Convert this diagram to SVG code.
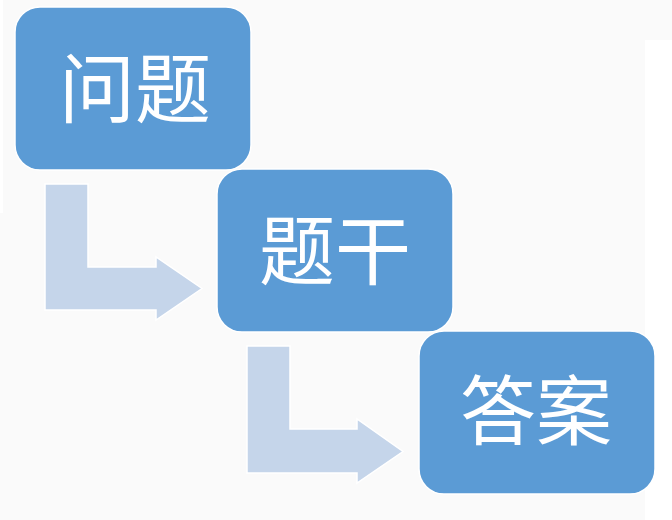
<svg xmlns="http://www.w3.org/2000/svg" width="672" height="520" viewBox="0 0 672 520">
<style>
.box{fill:#5b9bd5;stroke:#ffffff;stroke-width:1.5}
.arrow{fill:#c5d5ea;stroke:#ffffff;stroke-width:1.5;stroke-linejoin:miter}
.label{fill:#ffffff;font-family:"Noto Sans CJK SC","Noto Sans CJK JP",sans-serif;font-size:76px;text-anchor:middle}
</style>
<rect x="0" y="0" width="672" height="520" fill="#fafafa"/>
<rect x="645" y="40" width="27" height="480" fill="#ffffff"/>
<rect x="0" y="0" width="3" height="213" fill="#ffffff"/>
<g id="connectors">
<polygon class="arrow" points="45,184 88,184 88,267 156,267 156,257 202,288.5 156,320 156,310 45,310"/>
<polygon class="arrow" points="247,346 290,346 290,429 357,429 357,419 403,451.5 357,483 357,473 247,473"/>
</g>
<g id="node1">
<rect class="box" x="15" y="7" width="236" height="163" rx="25" ry="25"/>
<text class="label" x="135" y="117">问题</text>
</g>
<g id="node2">
<rect class="box" x="217" y="169" width="236" height="163" rx="25" ry="25"/>
<text class="label" x="335" y="279">题干</text>
</g>
<g id="node3">
<rect class="box" x="419" y="331" width="236" height="163" rx="25" ry="25"/>
<text class="label" x="536" y="439">答案</text>
</g>
</svg>
